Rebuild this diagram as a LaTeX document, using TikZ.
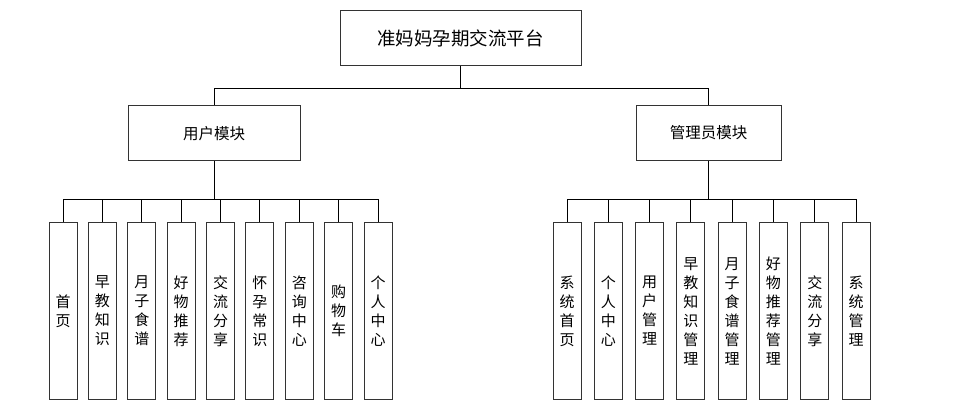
\documentclass[tikz,border=0pt]{standalone}
\usepackage{fontspec}
\setmainfont{Noto Sans CJK SC}

\begin{document}
\begin{tikzpicture}[x=1pt, y=-1pt,
		block/.style={draw=black!80, line width=1pt, minimum width=#1, minimum height=55pt, inner sep=0pt},
		leaf/.style={draw=black!80, line width=1pt, minimum width=28pt, minimum height=176pt, inner sep=0pt, align=center, font=\fontsize{15}{19}\selectfont},
		link/.style={line width=1pt},
	]
		\useasboundingbox (0,0) rectangle (955,411);

		\node[block=241pt, font=\fontsize{18.5}{22}\selectfont] (platform) at (460.5,38.5) {准妈妈孕期交流平台};
		\node[block=172pt, font=\fontsize{15.5}{18}\selectfont] (user) at (214,133.5) {用户模块};
		\node[block=145pt, font=\fontsize{15.5}{18}\selectfont] (admin) at (708.5,133) {管理员模块};

		\coordinate (topbus) at (460.5,89);
		\coordinate (ubus) at (214,200);
		\coordinate (abus) at (708.5,200);

		\draw[link] (platform.south) -- (topbus) -| (user.north);
		\draw[link] (topbus) -| (admin.north);
		\draw[link] (user.south) -- (ubus);
		\draw[link] (admin.south) -- (abus);

		% user side
		\foreach \txt [count=\i] in {首\\页, 早\\教\\知\\识, 月\\子\\食\\谱, 好\\物\\推\\荐, 交\\流\\分\\享, 怀\\孕\\常\\识, 咨\\询\\中\\心, 购\\物\\车, 个\\人\\中\\心}
			\node[leaf] (u\i) at ({63+(\i-1)*39.375},311) {\txt};
		\foreach \i in {1,...,9}
			\draw[link] (ubus) -| (u\i.north);

		% admin side
		\foreach \txt [count=\i] in {系\\统\\首\\页, 个\\人\\中\\心, 用\\户\\管\\理, 早\\教\\知\\识\\管\\理, 月\\子\\食\\谱\\管\\理, 好\\物\\推\\荐\\管\\理, 交\\流\\分\\享, 系\\统\\管\\理}
			\node[leaf] (a\i) at ({567+(\i-1)*41.29},311) {\txt};
		\foreach \i in {1,...,8}
			\draw[link] (abus) -| (a\i.north);
	\end{tikzpicture}
\end{document}
